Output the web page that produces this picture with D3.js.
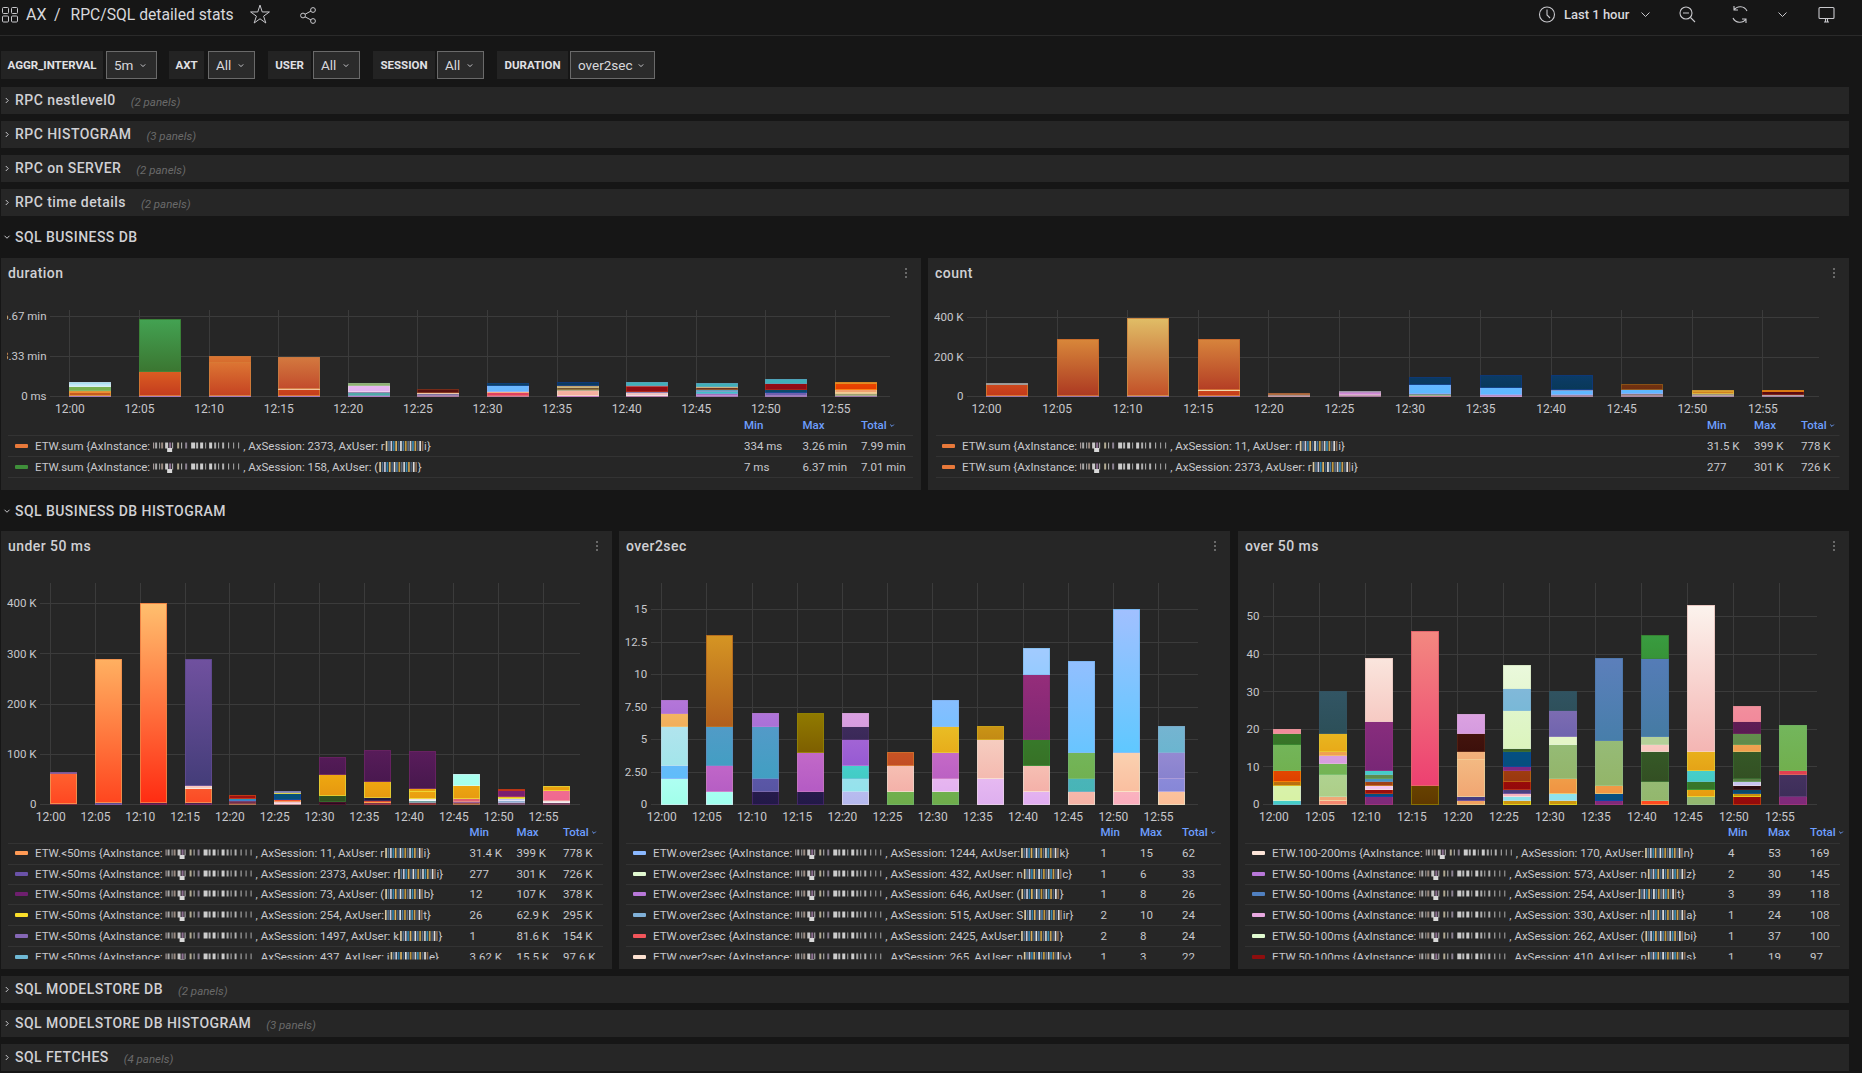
<!DOCTYPE html>
<html><head><meta charset="utf-8">
<script src="https://cdn.jsdelivr.net/npm/d3@7"></script>
<style>
html,body{margin:0;padding:0;background:#161616;overflow:hidden}
svg{display:block}
text{font-family:Roboto,sans-serif}
</style></head><body>
<svg id="c" width="1862" height="1073"></svg>
<script>
// ---------- data ----------
const timeLabels = ["12:00","12:05","12:10","12:15","12:20","12:25","12:30","12:35","12:40","12:45","12:50","12:55"];

// duration, minutes (bottom to top of each stack)
const durationValues = [
 [.1,.2,.1,.1,.3,.2,.17],[.1,1.95,4.36],[.1,2.73,.5],[.1,.45,.15,2.55],[.1,.25,.05,.55,.13],[.1,.15,.1,.2],
 [.1,.25,.1,.5,.13],[.1,.4,.1,.15,.15,.3],[.1,.2,.1,.4,.1,.27],[.1,.15,.2,.1,.2,.1,.23],[.1,.2,.3,.5,.32],[.1,.15,.1,.25,.45,.12]];
const durationColors = [
 ["#8a62b8","#c85c20","#e84e12","#d06020","#78b050","#c4ecf8","#a8e2f0"],["#8a62b8","#cf4c20","#3a8c3a"],["#8a62b8","#d65a25","#d87030"],["#8a62b8","#c8401c","#f0a080","#d06030"],["#9060c0","#50a8a8","#7a6aa0","#e5b5f0","#90b070"],["#a060a0","#8070a0","#f0a080","#5a1010"],
 ["#c060a0","#e04060","#f08060","#6ab8ff","#0a4060"],["#b060c0","#f5b0a0","#a09070","#705030","#c0a070","#0a3a60"],["#b060b0","#f0c0c0","#6060a0","#900c14","#a04050","#40b0b8"],["#8060b0","#a070c0","#40c0c8","#60a0c0","#703020","#c0a070","#40b0b8"],["#8060b0","#7060b0","#0a4a6a","#900c14","#40b0b8"],["#80609c","#a0a070","#e8a070","#f0a070","#e84000","#d06018"]];

// count, thousands
const countValues = [
 [4,57,5],[4,284],[4,394],[4,24,8,252],[5,5,4],[4,8,11,2],[5,8,4,44,36],[6,6,32,61],[4,8,18,4,71],[4,10,21,24],[4,10,10,6],[4,6,14,6]];
const countColors = [
 ["#8060a0","#c8401c","#909090"],["#8060a0","#c85c28"],["#8060a0","#d88a40"],["#8060a0","#c8401c","#f0c090","#cc5e2a"],["#c080a0","#907070","#904030"],["#a060a0","#b090a0","#d088d8","#808090"],
 ["#c060a0","#90a870","#4070a0","#60b8ff","#0a3a60"],["#b080d0","#9070b0","#60b8ff","#0a3a60"],["#a070a0","#80708f","#60b8ff","#6090c0","#0a3a60"],["#a070a0","#907880","#60b8ff","#703010"],["#9070a0","#a09080","#d08020","#c06820"],["#9070a0","#a09090","#5a0a14","#c04810"]];

// under 50 ms, thousands
const underValues = [
 [2,60,2],[3,286],[3,397],[3,29,5,251],[2,3,3,4,5],[2,3,4,12,3,1],[3,3,12,41,35],[3,3,2,5,33,62],[4,3,4,14,6,75],[3,3,5,26,23],[3,5,3,4,12,2],[3,5,20,8]];
const underColors = [
 ["#5a2040","#ff5428","#6a5088"],["#5a4a90","#ff8040"],["#5a1a50","#ff8040"],["#4a2050","#fb5028","#f8c8c0","#59478c"],["#a05040","#70304a","#503058","#2a8fba","#a01010"],["#c07a90","#f0c0d0","#f05030","#05507a","#e8b01c","#6a78b0"],
 ["#2a0a20","#200818","#305020","#eaa010","#501a54"],["#80304a","#ff6020","#c02030","#201c40","#eaa010","#501a54"],["#803040","#70a0a0","#f0e0e0","#eaa010","#eaa010","#501a54"],["#a05040","#704c80","#e06070","#eaa010","#a8ffee"],["#705070","#90b0d0","#c0c0f0","#e8c020","#7a2070","#a01010"],["#704060","#f0e0e0","#f06a90","#eaa010"]];

// over2sec, request count
const over2Values = [
 [2,1,3,1,1],[1,2,3,7],[1,1,4,1],[1,3,3],[1,1,1,2,1,1],[1,2,1],[1,1,2,2,2],[2,3,1],[1,2,2,5,2],[1,1,2,7],[1,3,11],[1,1,2,2]];
const over2Colors = [
 ["#a8ffee","#62bcfa","#aae4ec","#f2b25e","#b174d8"],["#a3fff0","#bb62c6","#4a9cc5","#c37820"],["#241a49","#5956a5","#4a9cc5","#ad72d8"],["#241a49","#bb62c6","#876c00"],["#b6b9ee","#96e2ec","#44cdc8","#9c5fd4","#3c2a5a","#d89ee0"],["#6fae4c","#f5b8ae","#c45024"],
 ["#6fae4c","#e5b4f0","#c065c5","#e8b520","#80bfff"],["#e2b4f0","#f5c4b8","#c68f15"],["#e2b0f0","#f5b8ae","#377528","#8a2a78","#9ccbff"],["#f5b5a8","#48b5b8","#72b355","#7dc0ff"],["#fab0be","#fac8a8","#80bfff"],["#fbc09a","#8888d8","#8e86d0","#70b4d0"]];

// over 50 ms, request count
const over50Values = [
 [1,4,1,3,7,3,1],[1,1,6,3,2,1,5,11],[2,1,1,1,1,1,1,1,13,17],[5,41],[1,1,10,2,5,5],[1,1,1,1,2,3,1,4,1,10,6,6],[1,2,4,9,2,7,5],[1,2,2,12,22],[1,5,8,2,2,21,6],[2,2,2,3,5,39],[2,1,1,1,1,1,7,2,3,3,4],[2,6,1,12]];
const over50Colors = [
 ["#45cdc8","#d8f2a8","#b96f10","#e04400","#72b355","#377528","#f28c9c"],["#f58870","#f0a878","#aed08c","#74b455","#d89ee0","#f0a050","#e8b01c","#2f525e"],["#802a7a","#054f80","#9a0e0e","#f5c8f0","#a04015","#4597bf","#5f8c4c","#45cdc8","#802a7a","#f8d8d0"],["#633d00","#f06070"],["#f0a060","#443c80","#f2b07a","#f2b07a","#40120c","#d89ee0"],["#cd9510","#8fe2ec","#f8b4c0","#4a4080","#960a0a","#9c3a10","#7a2a80","#054f80","#3c6028","#def5c4","#7db8d8","#e8f8d8"],
 ["#cd9510","#8fe2ec","#f09845","#94b870","#e5f5c8","#7668b0","#2f525e"],["#802a7a","#054f80","#f09845","#94b870","#4f7eb5"],["#ff4a20","#94b870","#345425","#f8c8c0","#b4d098","#4a7cb0","#38983c"],["#94b870","#e89e10","#377528","#45cdc8","#e8aa18","#f8d8d0"],["#960a0a","#c88e10","#0a4a6a","#2a0c10","#c8c4f0","#5a7c45","#345425","#f0a050","#628c4c","#5c1c54","#f28c9c"],["#802a7a","#40305c","#e04050","#72b355"]];

// legends: metric, session, user head, user tail, min, max, total
const durationLegend = [["ETW.sum","2373","r","i}","334 ms","3.26 min","7.99 min"],["ETW.sum","158","(","}","7 ms","6.37 min","7.01 min"]];
const countLegend = [["ETW.sum","11","r","i}","31.5 K","399 K","778 K"],["ETW.sum","2373","r","i}","277","301 K","726 K"]];
const underLegend = [["ETW.<50ms","11","r","i}","31.4 K","399 K","778 K"],["ETW.<50ms","2373","r","i}","277","301 K","726 K"],["ETW.<50ms","73","(","b}","12","107 K","378 K"],["ETW.<50ms","254","","t}","26","62.9 K","295 K"],["ETW.<50ms","1497","k","}","1","81.6 K","154 K"],["ETW.<50ms","437","i","e}","3.62 K","15.5 K","97.6 K"]];
const over2Legend = [["ETW.over2sec","1244","","k}","1","15","62"],["ETW.over2sec","432","n","c}","1","6","33"],["ETW.over2sec","646","(","}","1","8","26"],["ETW.over2sec","515","S","ir}","2","10","24"],["ETW.over2sec","2425","","}","2","8","24"],["ETW.over2sec","265","n","v}","1","3","22"]];
const over50Legend = [["ETW.100-200ms","170","","n}","4","53","169"],["ETW.50-100ms","573","n","z}","2","30","145"],["ETW.50-100ms","254","","t}","3","39","118"],["ETW.50-100ms","330","n","a}","1","24","108"],["ETW.50-100ms","262","(","bi}","1","37","100"],["ETW.50-100ms","410","n","s}","1","19","97"]];
const durationSwatches = ["#e8793a","#3f8f3a"];
const countSwatches = ["#e8793a","#e8793a"];
const underSwatches = ["#ff9a55","#6a52a8","#6e1f6e","#fade2a","#8567b5","#6fb8d4"];
const over2Swatches = ["#8ab8ff","#e0f8d0","#b877d9","#80b0d8","#f2555a","#fbe0d0"];
const over50Swatches = ["#fde4d8","#b877d9","#5080c0","#e8a8e0","#e0fad0","#8e0e0e"];

const collapsedTop = [["RPC nestlevel0","(2 panels)"],["RPC HISTOGRAM","(3 panels)"],["RPC on SERVER","(2 panels)"],["RPC time details","(2 panels)"]];
const collapsedBottom = [["SQL MODELSTORE DB","(2 panels)"],["SQL MODELSTORE DB HISTOGRAM","(3 panels)"],["SQL FETCHES","(4 panels)"]];
const variables = [["AGGR_INTERVAL","5m"],["AXT","All"],["USER","All"],["SESSION","All"],["DURATION","over2sec"]];

// ---------- page ----------
const svg = d3.select("#c");
const defs = svg.append("defs");
const PANEL="#262626", TXT="#c8c8cc", GRID="#3b3b3b", BLUE="#6e9fff", FONT="Roboto,sans-serif";
const TITLE={size:14,weight:500,fill:"#d0d0d4",ls:.45};
svg.append("rect").attr("width",1862).attr("height",1073).attr("fill","#161616");
let uid = 0;

function label(g,x,y,s,o={}){
  return g.append("text").attr("x",x).attr("y",y).attr("dy",".35em").text(s)
    .attr("fill",o.fill||TXT).attr("font-size",o.size||11.5).attr("font-weight",o.weight||400)
    .attr("letter-spacing",o.ls||null)
    .attr("font-style",o.style||null).attr("text-anchor",o.anchor||"start");
}
function chevron(g,x,y,down,c="#c8c8cc",s=2.5){
  const p = down ? `M${x-s},${y-s/2}L${x},${y+s/2}L${x+s},${y-s/2}` : `M${x-s/2},${y-s}L${x+s/2},${y}L${x-s/2},${y+s}`;
  g.append("path").attr("d",p).attr("fill","none").attr("stroke",c).attr("stroke-width",1);
}

// top bar
const topBar = svg.append("g");
topBar.append("line").attr("x1",0).attr("x2",1862).attr("y1",35.5).attr("y2",35.5).attr("stroke","#2a2a2a");
[[2,7],[11,7],[2,15.5],[11,15.5]].forEach(p=>topBar.append("rect").attr("x",p[0]+.5).attr("y",p[1]+.5).attr("width",6).attr("height",6).attr("rx",1).attr("fill","none").attr("stroke","#c8c8cc"));
label(topBar,26,14.5,"AX",{size:16,fill:"#d8d8dc"});
label(topBar,54,14.5,"/",{size:16,fill:"#d8d8dc"});
label(topBar,70.5,14.5,"RPC/SQL detailed stats",{size:15.7,fill:"#d8d8dc"});
topBar.append("path").attr("transform","translate(260,15)").attr("d",d3.symbol(d3.symbolStar,110)()).attr("fill","none").attr("stroke","#c8c8cc");
const sh = topBar.append("g").attr("fill","none").attr("stroke","#c8c8cc");
[[303,15.5],[313,10],[313,21]].forEach(p=>sh.append("circle").attr("cx",p[0]).attr("cy",p[1]).attr("r",2.4));
sh.append("path").attr("d","M305,14.3L311,11M305,16.8L311,20");
const ic = topBar.append("g").attr("fill","none").attr("stroke","#c8c8cc").attr("stroke-width",1.1);
ic.append("circle").attr("cx",1547).attr("cy",14.5).attr("r",7.5);
ic.append("path").attr("d","M1547,9.5V15L1550,18");
label(topBar,1564,14.5,"Last 1 hour",{size:13,fill:"#d8d8dc",weight:500});
chevron(topBar,1645.5,14.5,true,"#c8c8cc",4);
ic.append("circle").attr("cx",1686).attr("cy",13).attr("r",6);
ic.append("path").attr("d","M1683,13H1689M1690.5,17.5L1695,22");
ic.append("path").attr("d","M1747,11A7.5,7.5 0 0 0 1734,10M1734,6V10H1738M1733,18A7.5,7.5 0 0 0 1746,19M1746,23V19H1742");
chevron(topBar,1782.5,14.5,true,"#c8c8cc",4);
ic.append("rect").attr("x",1819).attr("y",7.5).attr("width",15).attr("height",11).attr("rx",1);
ic.append("path").attr("d","M1824,22H1829M1825.5,18.5V22M1827.5,18.5V22");

// variables
const vg = svg.append("g");
[[1,102,106,50],[169,35,208,46],[268,43,313,46],[373,62,437,46],[497,71,570,84]].forEach((b,i)=>{
  vg.append("rect").attr("x",b[0]).attr("y",51).attr("width",b[1]).attr("height",28).attr("fill","#232323");
  label(vg,b[0]+b[1]/2,65,variables[i][0],{size:11.5,weight:700,anchor:"middle",fill:"#e0e0e4"});
  vg.append("rect").attr("x",b[2]+.5).attr("y",51.5).attr("width",b[3]).attr("height",27).attr("fill","#2b2b2b").attr("stroke","#6a6a6a");
  label(vg,b[2]+8,65.5,variables[i][1],{size:13.5,fill:"#d8d8dc"});
  chevron(vg,b[2]+b[3]-13,65.5,true,"#c8c8cc",2.2);
});

function rowBar(g,y,title,sub){
  g.append("rect").attr("x",1).attr("y",y).attr("width",1848).attr("height",27).attr("fill",PANEL);
  chevron(g,7,y+13.5,false);
  const t = label(g,15,y+13.5,title,TITLE);
  label(g,15+t.node().getComputedTextLength()+15,y+14.5,sub,{size:11.5,style:"italic",fill:"#6a6a6a"});
}
const rowsG = svg.append("g");
collapsedTop.forEach((r,i)=>rowBar(rowsG,[87,121,155,189][i],r[0],r[1]));
collapsedBottom.forEach((r,i)=>rowBar(rowsG,[976,1010,1044][i],r[0],r[1]));
chevron(rowsG,7,237,true); label(rowsG,15,237,"SQL BUSINESS DB",TITLE);
chevron(rowsG,7,511,true); label(rowsG,15,511,"SQL BUSINESS DB HISTOGRAM",TITLE);

// obfuscated fragments of the source screenshot
const maskBlocks = [[0,1,"#b8a8a8"],[2,2,"#a8a8a8"],[6,1,"#aaa"],[8,2,"#9a8a80"],[12,3,"#c8c8c8"],[16,2,"#8c6f90"],[19,1,"#bbb"],[24,2,"#b0a890"],[28,1,"#c0c0c0"],[32,2,"#8a8090"],[38,4,"#ccc"],[43,2,"#bbb"],[47,3,"#ccc"],[52,1,"#aaa"],[56,3,"#ccc"],[61,2,"#aaa"],[65,1,"#bbb"],[69,2,"#b0b0b0"],[75,1,"#bbb"],[80,1,"#aaa"],[85,1,"#aaa"]];
const maskStripes = ["#d8c8a0","#4a6a8a","#c8c8d8","#2e7ca8","#d8b060","#3c5878","#e0e0e0","#4a7aa0","#c09840","#5a6a80","#d0d0d0","#3a88b0","#c8a050","#485870","#ddd","#8a6a50"];
function mask(g,x,y){
  const m = g.append("g");
  m.selectAll("rect").data(maskBlocks).join("rect").attr("x",d=>x+d[0]).attr("y",y-3.5).attr("width",d=>d[1]).attr("height",6).attr("fill",d=>d[2]);
  m.append("rect").attr("x",x+14).attr("y",y+2).attr("width",5).attr("height",4).attr("fill","#d8d8d8");
  return x+90;
}
function stripes(g,x,y){
  g.append("g").selectAll("rect").data(maskStripes).join("rect").attr("x",(d,i)=>x+i*2.4).attr("y",y-5).attr("width",1.7).attr("height",10).attr("fill",d=>d);
  return x+maskStripes.length*2.4;
}
function flow(g,x,y,s){ const t=label(g,x,y,s); return x+t.node().getComputedTextLength(); }

function panel(o){
  const g = svg.append("g");
  g.append("rect").attr("x",o.x).attr("y",o.y).attr("width",o.w).attr("height",o.h).attr("fill",PANEL);
  label(g,o.x+7,o.y+15,o.title,TITLE);
  [-4,0,4].forEach(d=>g.append("circle").attr("cx",o.x+o.w-15).attr("cy",o.y+15+d).attr("r",1).attr("fill","#808080"));

  // scales
  const x = d3.scalePoint().domain(timeLabels).range([o.x0,o.x1]);
  const step = x.step(), bw = Math.round(step*0.6);
  const y = d3.scaleLinear().domain([0,o.y1Val]).range([o.y0,o.y1]);
  const tOf = v => (o.y0-y(v))/(o.y0-o.top);

  // clip for the axis labels, as in the original narrow gutter
  const cid="clip"+(uid++);
  defs.append("clipPath").attr("id",cid).append("rect").attr("x",o.x+6).attr("y",o.top-10).attr("width",o.w).attr("height",o.y0-o.top+30);
  const axL = g.append("g").attr("clip-path",`url(#${cid})`).append("g").attr("transform",`translate(${o.left-3.5},0)`)
     .call(d3.axisLeft(y).tickValues(o.ticks).tickFormat((d,i)=>o.tickLabels[i]).tickSize(0).tickPadding(0));
  axL.select(".domain").remove();
  axL.selectAll("text").attr("fill",TXT).attr("font-size",11.5).attr("font-family",FONT);

  // grid
  const gr = g.append("g").attr("stroke",GRID).attr("shape-rendering","crispEdges");
  gr.selectAll("line.h").data(o.ticks).join("line").attr("class","h").attr("x1",o.left).attr("x2",o.right).attr("y1",d=>Math.round(y(d))+.5).attr("y2",d=>Math.round(y(d))+.5);
  gr.selectAll("line.v").data(timeLabels).join("line").attr("class","v").attr("x1",d=>Math.round(x(d))+.5).attr("x2",d=>Math.round(x(d))+.5).attr("y1",o.top).attr("y2",o.y0+1);

  const axB = g.append("g").attr("transform",`translate(0,${o.y0+o.tickGap})`).call(d3.axisBottom(x).tickSize(0).tickPadding(0));
  axB.select(".domain").remove();
  axB.selectAll("text").attr("fill",TXT).attr("font-size",12).attr("font-family",FONT);

  // stacked bars: Grafana's hue gradient runs over the plot height
  const segs = [];
  o.values.forEach((arr,i)=>{ let c=0; arr.forEach((v,j)=>{ segs.push({t:timeLabels[i],a:c,b:c+v,col:o.colors[i][j]}); c+=v; }); });
  const shift = (col,dt)=>{ const h=d3.hsl(col); return d3.hsl(h.h+30*dt,h.s,Math.max(0,Math.min(1,h.l+0.2*dt))); };
  g.append("g").selectAll("rect").data(segs).join("rect")
    .attr("x",d=>Math.round(x(d.t))+.5)
    .attr("y",d=>Math.round(y(d.b))+.5)
    .attr("width",bw-1)
    .attr("height",d=>Math.max(.5,Math.round(y(d.a))-Math.round(y(d.b))-.0))
    .attr("fill",d=>{
      const id="g"+(uid++), tm=tOf((d.a+d.b)/2);
      const lg=defs.append("linearGradient").attr("id",id).attr("x1",0).attr("x2",0).attr("y1",0).attr("y2",1);
      lg.append("stop").attr("offset",0).attr("stop-color",shift(d.col,tOf(d.b)-tm).formatHex());
      lg.append("stop").attr("offset",1).attr("stop-color",shift(d.col,tOf(d.a)-tm).formatHex());
      return `url(#${id})`;
    })
    .attr("stroke",d=>shift(d.col,0.5-tOf((d.a+d.b)/2)).formatHex())
    .attr("stroke-opacity",.85);

  // legend
  const L = o.legend;
  const lcid="clip"+(uid++);
  defs.append("clipPath").attr("id",lcid).append("rect").attr("x",o.x).attr("y",L.head-10).attr("width",o.w).attr("height",L.clip-L.head+10);
  const lg = g.append("g").attr("clip-path",`url(#${lcid})`);
  ["Min","Max","Total"].forEach((h,i)=>label(lg,L.cols[i],L.head,h,{fill:BLUE,size:11.5,weight:500}));
  chevron(lg,L.cols[2]+31,L.head+.5,true,BLUE,1.8);
  L.seps.forEach(s=>lg.append("line").attr("x1",L.sx0).attr("x2",L.sx1).attr("y1",s+.5).attr("y2",s+.5).attr("stroke","#333"));
  o.rows.forEach((r,i)=>{
    const yy=L.rowY[i];
    lg.append("rect").attr("x",o.x+14).attr("y",yy-2).attr("width",13).attr("height",4).attr("rx",1).attr("fill",o.swatches[i]);
    let cx=flow(lg,o.x+34,yy,r[0]+" {AxInstance:");
    cx=mask(lg,cx+3,yy);
    cx=flow(lg,cx,yy,", AxSession: "+r[1]+", AxUser: "+r[2]);
    cx=stripes(lg,cx+1,yy);
    flow(lg,cx,yy,r[3]);
    [4,5,6].forEach((k,n)=>label(lg,L.cols[n],yy,r[k]));
  });
}

const smallSeps=[435,456,477], smallRows=[446,467];
panel({x:1,y:258,w:920,h:232,title:"duration",x0:69.4,x1:835,left:50,right:890,top:310,y0:396,y1:316,y1Val:6.67,tickGap:8,
  ticks:[0,3.33,6.67],tickLabels:["0 ms","3.33 min","6.67 min"],values:durationValues,colors:durationColors,rows:durationLegend,swatches:durationSwatches,
  legend:{head:425,cols:[744,802.5,861],seps:smallSeps,rowY:smallRows,sx0:8,sx1:913,clip:485}});
panel({x:928,y:258,w:921,h:232,title:"count",x0:986,x1:1762.4,left:967,right:1818.6,top:310,y0:396,y1:317.3,y1Val:400,tickGap:8,
  ticks:[0,200,400],tickLabels:["0","200 K","400 K"],values:countValues,colors:countColors,rows:countLegend,swatches:countSwatches,
  legend:{head:425,cols:[1707,1754,1801],seps:smallSeps,rowY:smallRows,sx0:936,sx1:1839.5,clip:485}});
const bigSeps=[843,864,884,904,925,946], bigRows=[853,874,894,915,936,957];
panel({x:1,y:531,w:611,h:438,title:"under 50 ms",x0:50.2,x1:543,left:40,right:580.4,top:583,y0:804,y1:603.3,y1Val:400,tickGap:8,
  ticks:[0,100,200,300,400],tickLabels:["0","100 K","200 K","300 K","400 K"],values:underValues,colors:underColors,rows:underLegend,swatches:underSwatches,
  legend:{head:832,cols:[469.6,516.6,563],seps:bigSeps,rowY:bigRows,sx0:8,sx1:603,clip:959.5}});
panel({x:619,y:531,w:611,h:438,title:"over2sec",x0:661.2,x1:1158,left:650.6,right:1198.4,top:583,y0:804,y1:609.3,y1Val:15,tickGap:8,
  ticks:[0,2.5,5,7.5,10,12.5,15],tickLabels:["0","2.50","5","7.50","10","12.5","15"],values:over2Values,colors:over2Colors,rows:over2Legend,swatches:over2Swatches,
  legend:{head:832,cols:[1100.5,1140,1182],seps:bigSeps,rowY:bigRows,sx0:626,sx1:1221,clip:959.5}});
panel({x:1238,y:531,w:611,h:438,title:"over 50 ms",x0:1273.4,x1:1779.4,left:1263,right:1817.4,top:583,y0:804,y1:616.3,y1Val:50,tickGap:8,
  ticks:[0,10,20,30,40,50],tickLabels:["0","10","20","30","40","50"],values:over50Values,colors:over50Colors,rows:over50Legend,swatches:over50Swatches,
  legend:{head:832,cols:[1728,1768,1810],seps:bigSeps,rowY:bigRows,sx0:1245,sx1:1840,clip:959.5}});
</script>
</body></html>
